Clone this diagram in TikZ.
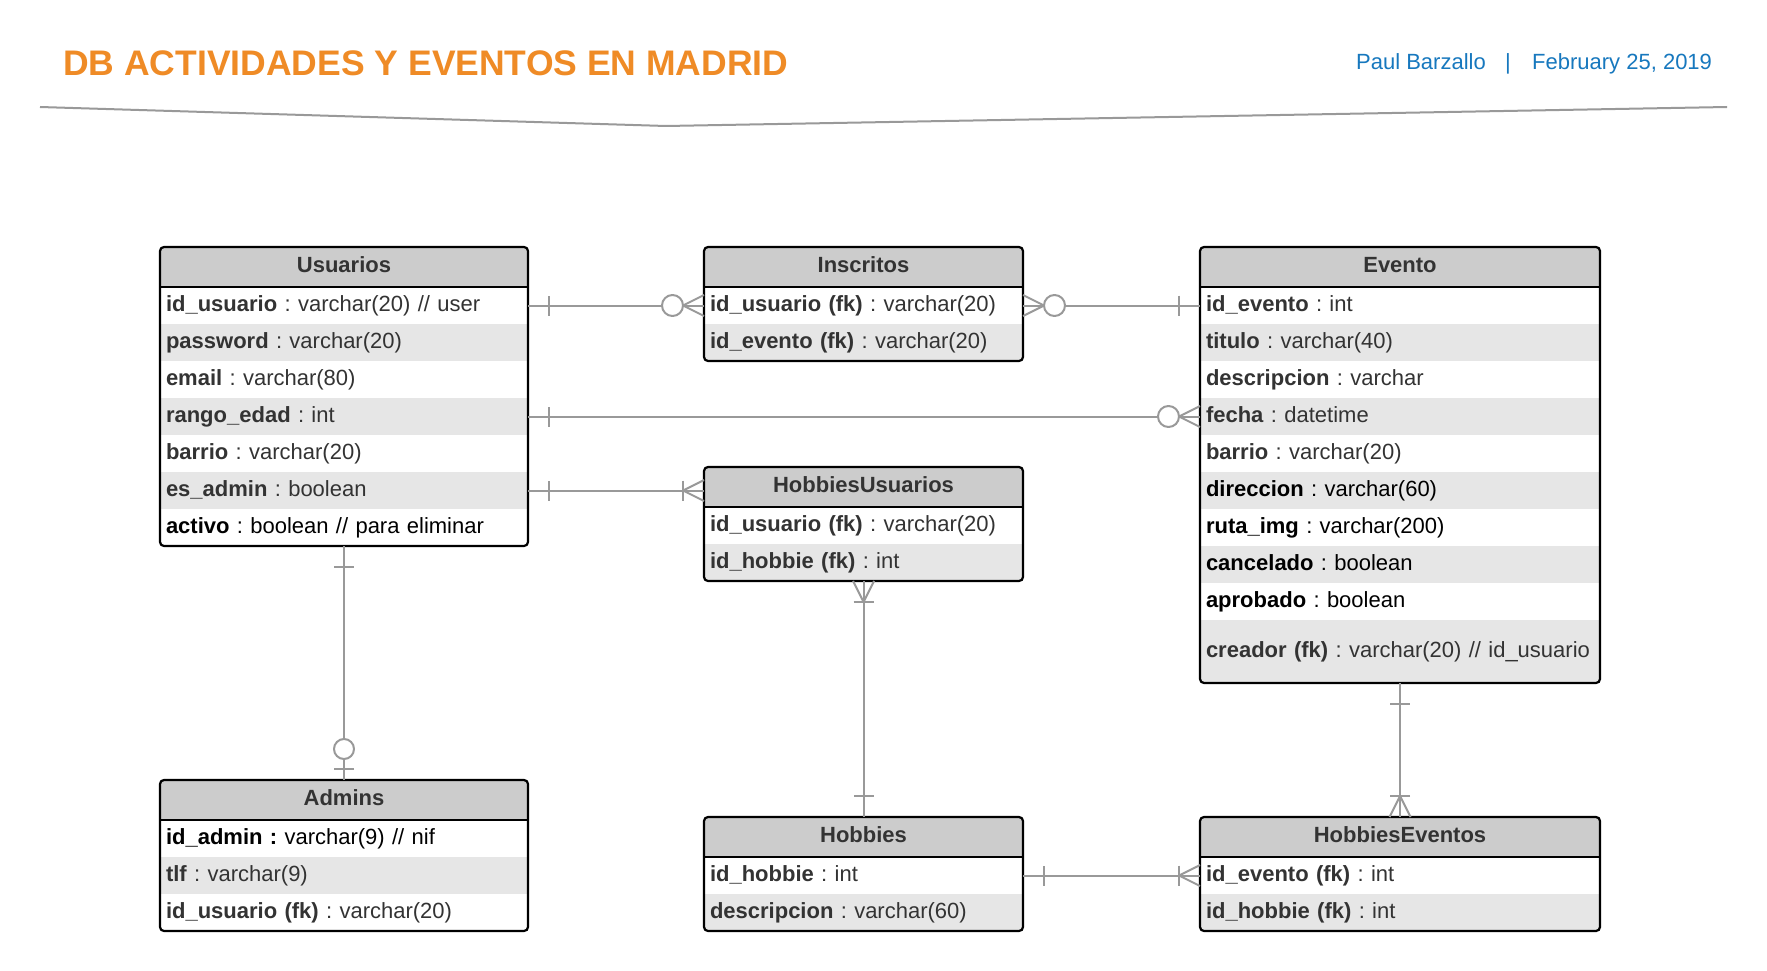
\documentclass[tikz,border=0pt]{standalone}
\usepackage{fontspec}
\setmainfont{Liberation Sans}
\usetikzlibrary{calc}
\frenchspacing
\definecolor{ttl}{RGB}{239,139,38}
\definecolor{auth}{RGB}{23,120,190}
\definecolor{conn}{RGB}{153,153,153}
\definecolor{hdr}{RGB}{204,204,204}
\definecolor{alt}{RGB}{230,230,230}
\definecolor{txt}{RGB}{51,51,51}
\tikzset{
  cline/.style={draw=conn, line width=2pt, line join=round},
  rowbox/.style={anchor=north west, inner xsep=6pt, inner ysep=0pt, outer sep=0pt,
    text height=16pt, text depth=5pt, align=left, text=txt,
    font=\frenchspacing\fontsize{22}{26}\selectfont},
  headbox/.style={anchor=north west, fill=hdr, minimum height=40pt, inner sep=0pt, outer sep=0pt,
    text height=16pt, text depth=5pt, text=txt, font=\bfseries\fontsize{22}{26}\selectfont},
  tabbox/.style={anchor=north west, draw=black, line width=2.2pt, rounded corners=4pt,
    inner sep=0pt, outer sep=0pt},
  pics/one/.style={code={\draw[cline] (-21,-10) -- (-21,10);}},
  pics/zeromany/.style={code={\draw[cline] (0,-10.5) -- (-21,0) -- (0,10.5);
      \draw[cline, fill=white] (-31.5,0) circle (10.5);}},
  pics/onemany/.style={code={\draw[cline] (0,-10.5) -- (-21,0) -- (0,10.5);
      \draw[cline] (-21,-10) -- (-21,10);}},
  pics/zeroone/.style={code={\draw[cline] (-11,-10) -- (-11,10);
      \draw[cline, fill=white] (-31,0) circle (10);}},
}
\newcommand{\ertable}[7]{%
  \def\tabx{#2}\def\tabw{#4}%
  \begin{scope}
    \clip[rounded corners=4pt] (#2,#3) rectangle ++(#4,#5);
    \node[headbox, minimum width=#4pt] (#1-h) at (#2,#3) {#6};
    #7
  \end{scope}
  \node[tabbox, minimum width=#4pt, minimum height=#5pt] (#1) at (#2,#3) {};
  \draw[line width=2pt] (#1-h.south west) -- (#1-h.south east);
}
\newcommand{\errow}[5]{%
  \pgfmathsetmacro\rowtw{\tabw-12}%
  \node[rowbox, fill=#4, minimum width=\tabw pt, minimum height=#3pt, text width=\rowtw pt] (#1) at (\tabx,#2) {\frenchspacing #5};
}
\begin{document}
\begin{tikzpicture}[x=1pt,y=-1pt]
\useasboundingbox (0,0) rectangle (1767,971);
\fill[white] (0,0) rectangle (1767,971);

% header
\node[anchor=base west, text=ttl, font=\bfseries\fontsize{35.5}{40}\selectfont, inner sep=0pt] (title) at (63,76) {DB ACTIVIDADES Y EVENTOS EN MADRID};
\node[anchor=base east, text=auth, font=\fontsize{22}{26}\selectfont, inner sep=0pt] (author) at (1486,70) {Paul Barzallo};
\node[anchor=base, text=auth, font=\fontsize{22}{26}\selectfont, inner sep=0pt] (sep) at (1508,70) {|};
\node[anchor=base west, text=auth, font=\fontsize{22}{26}\selectfont, inner sep=0pt] (date) at (1532,70) {February 25, 2019};
\draw[draw=conn, line width=2pt] (40,107) -- (666,126) -- (1727,107);

% tables
\ertable{usu}{160}{247}{368}{299}{Usuarios}{%
  \errow{usu-r1}{287}{37}{white}{\textbf{id\_usuario} : varchar(20) // user}
  \errow{usu-r2}{324}{37}{alt}{\textbf{password} : varchar(20)}
  \errow{usu-r3}{361}{37}{white}{\textbf{email} : varchar(80)}
  \errow{usu-r4}{398}{37}{alt}{\textbf{rango\_edad} : int}
  \errow{usu-r5}{435}{37}{white}{\textbf{barrio} : varchar(20)}
  \errow{usu-r6}{472}{37}{alt}{\textbf{es\_admin} : boolean}
  \errow{usu-r7}{509}{37}{white}{\color{black}\textbf{activo} : boolean // para eliminar}
}
\ertable{ins}{704}{247}{319}{114}{Inscritos}{%
  \errow{ins-r1}{287}{37}{white}{\textbf{id\_usuario (fk)} : varchar(20)}
  \errow{ins-r2}{324}{37}{alt}{\textbf{id\_evento (fk)} : varchar(20)}
}
\ertable{hu}{704}{467}{319}{114}{HobbiesUsuarios}{%
  \errow{hu-r1}{507}{37}{white}{\textbf{id\_usuario (fk)} : varchar(20)}
  \errow{hu-r2}{544}{37}{alt}{\textbf{id\_hobbie (fk)} : int}
}
\ertable{eve}{1200}{247}{400}{436}{Evento}{%
  \errow{eve-r1}{287}{37}{white}{\textbf{id\_evento} : int}
  \errow{eve-r2}{324}{37}{alt}{\textbf{titulo} : varchar(40)}
  \errow{eve-r3}{361}{37}{white}{\textbf{descripcion} : varchar}
  \errow{eve-r4}{398}{37}{alt}{\textbf{fecha} : datetime}
  \errow{eve-r5}{435}{37}{white}{\textbf{barrio} : varchar(20)}
  \errow{eve-r6}{472}{37}{alt}{\color{black}\textbf{direccion} : varchar(60)}
  \errow{eve-r7}{509}{37}{white}{\color{black}\textbf{ruta\_img} : varchar(200)}
  \errow{eve-r8}{546}{37}{alt}{\color{black}\textbf{cancelado} : boolean}
  \errow{eve-r9}{583}{37}{white}{\color{black}\textbf{aprobado} : boolean}
  \errow{eve-r10}{620}{63}{alt}{\textbf{creador (fk)} : varchar(20) // id\_usuario}
}
\ertable{adm}{160}{780}{368}{151}{Admins}{%
  \errow{adm-r1}{820}{37}{white}{\color{black}\textbf{id\_admin :} varchar(9) // nif}
  \errow{adm-r2}{857}{37}{alt}{\textbf{tlf} : varchar(9)}
  \errow{adm-r3}{894}{37}{white}{\textbf{id\_usuario (fk)} : varchar(20)}
}
\ertable{hob}{704}{817}{319}{114}{Hobbies}{%
  \errow{hob-r1}{857}{37}{white}{\textbf{id\_hobbie} : int}
  \errow{hob-r2}{894}{37}{alt}{\textbf{descripcion} : varchar(60)}
}
\ertable{hev}{1200}{817}{400}{114}{HobbiesEventos}{%
  \errow{hev-r1}{857}{37}{white}{\textbf{id\_evento (fk)} : int}
  \errow{hev-r2}{894}{37}{alt}{\textbf{id\_hobbie (fk)} : int}
}

% connectors
\draw[cline] (usu-r1.east) -- (ins-r1.west);
\draw[cline] (ins-r1.east) -- (eve-r1.west);
\draw[cline] (usu-r4.east) -- (eve-r4.west);
\draw[cline] (usu-r6.east) -- (usu-r6.east -| hu.west);
\draw[cline] (usu.south) -- (adm.north);
\draw[cline] (hu.south) -- (hob.north);
\draw[cline] (hob-r1.east) -- (hev-r1.west);
\draw[cline] (eve.south) -- (hev.north);

% cardinality marks
\pic[rotate=180] at (usu-r1.east) {one};
\pic at (ins-r1.west) {zeromany};
\pic[rotate=180] at (ins-r1.east) {zeromany};
\pic at (eve-r1.west) {one};
\pic[rotate=180] at (usu-r4.east) {one};
\pic at (eve-r4.west) {zeromany};
\pic[rotate=180] at (usu-r6.east) {one};
\pic at (usu-r6.east -| hu.west) {onemany};
\pic[rotate=90] at (usu.south) {one};
\pic[rotate=-90] at (adm.north) {zeroone};
\pic[rotate=90] at (hu.south) {onemany};
\pic[rotate=-90] at (hob.north) {one};
\pic[rotate=180] at (hob-r1.east) {one};
\pic at (hev-r1.west) {onemany};
\pic[rotate=90] at (eve.south) {one};
\pic[rotate=-90] at (hev.north) {onemany};
\end{tikzpicture}
\end{document}
